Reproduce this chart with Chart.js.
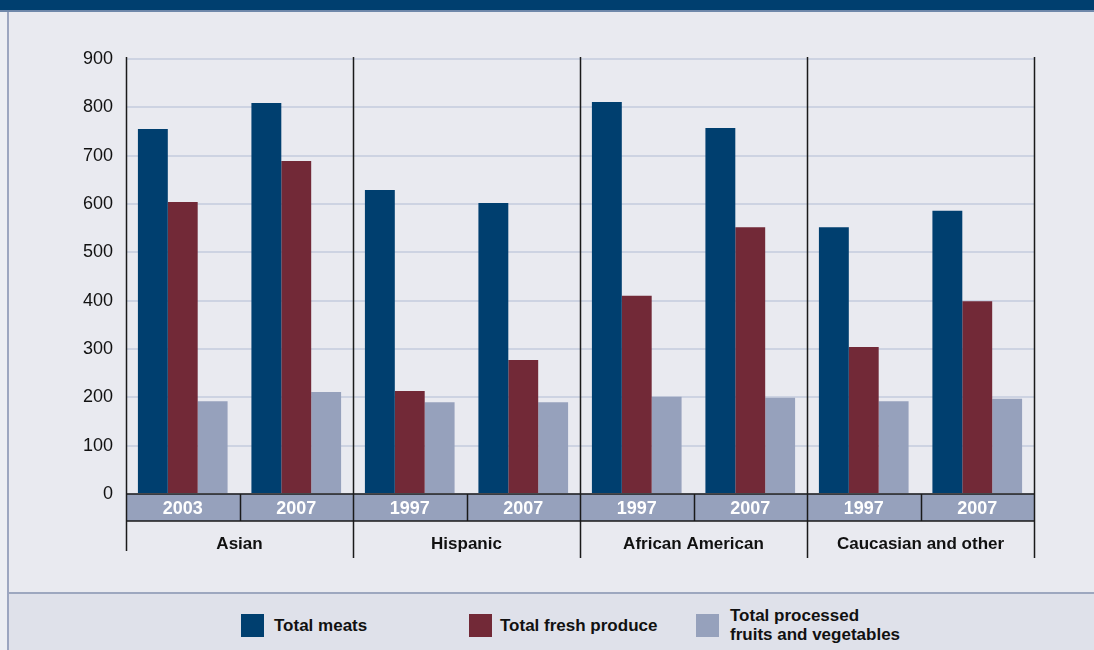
<!DOCTYPE html>
<html>
<head>
<meta charset="utf-8">
<script src="https://cdn.jsdelivr.net/npm/chart.js@4.4.0/dist/chart.umd.min.js"></script>
<style>
  html,body{margin:0;padding:0}
  body{width:1094px;height:650px;position:relative;overflow:hidden;background:#eceef3;font-family:"Liberation Sans",Arial,sans-serif}
  .topbar{position:absolute;left:0;top:0;width:1094px;height:10px;background:#003f6f;border-bottom:2px solid #6f88aa}
  .panel{position:absolute;left:7px;top:12px;right:0;bottom:0;background:#e9eaf0;border-left:2px solid #9ca6c0}
  .legend{position:absolute;left:9px;right:0;top:592px;bottom:0;background:#dfe1ea;border-top:2px solid #9da7bf}
  .sw{position:absolute;width:23px;height:23px}
  .lt{position:absolute;font-weight:bold;font-size:17px;color:#111;line-height:19px}
  #wrap{position:absolute;left:0;top:0;width:1094px;height:650px}
</style>
</head>
<body>
<div class="topbar"></div>
<div class="panel"></div>
<div class="legend"></div>
<div class="sw" style="left:241px;top:614px;background:#003f6f"></div>
<div class="lt" style="left:274px;top:616px">Total meats</div>
<div class="sw" style="left:469px;top:614px;background:#722937"></div>
<div class="lt" style="left:500px;top:616px">Total fresh produce</div>
<div class="sw" style="left:696px;top:614px;background:#96a1bc"></div>
<div class="lt" style="left:730px;top:606px">Total processed<br>fruits and vegetables</div>
<div id="wrap"><canvas id="c" width="1094" height="650"></canvas></div>
<script>
/* ===== Dados ===== */
const years   = ['2003','2007','1997','2007','1997','2007','1997','2007'];
const groups  = ['Asian','Hispanic','African American','Caucasian and other'];
const meats     = [755, 809, 629, 602, 811, 757, 552, 586];
const fresh     = [604, 689, 213, 277, 410, 552, 304, 399];
const processed = [192, 211, 190, 190, 201, 199, 192, 197];
const yTicks  = [0,100,200,300,400,500,600,700,800,900];

const C_MEAT = '#003f6f', C_FRESH = '#722937', C_PROC = '#96a1bc';

/* ===== Eixo inferior (anos + grupos) ===== */
const bottomAxis = {
  id:'bottomAxis',
  afterDraw(chart){
    const {ctx, chartArea:a, scales:{x}} = chart;
    const n = years.length;
    const step = (a.right - a.left)/n;
    const y0 = a.bottom, y1 = a.bottom+27, y2 = a.bottom+64;
    ctx.save();
    // faixa dos anos
    ctx.fillStyle = C_PROC;
    ctx.fillRect(a.left, y0, a.right-a.left, y1-y0);
    ctx.strokeStyle = '#1a1a1a';
    ctx.lineWidth = 1.5;
    ctx.beginPath();
    ctx.moveTo(a.left, y0); ctx.lineTo(a.right, y0);
    ctx.moveTo(a.left, y1); ctx.lineTo(a.right, y1);
    for (let i=1;i<n;i++){
      if (i%2===0) continue;
      const xx = Math.round(a.left+step*i)+0.5;
      ctx.moveTo(xx, y0); ctx.lineTo(xx, y1);
    }
    // separadores de grupo
    for (let g=0; g<=groups.length; g++){
      const xx = Math.round(a.left+step*2*g)+0.5;
      ctx.moveTo(xx, a.top-2); ctx.lineTo(xx, g===0 ? y2-7 : y2);
    }
    ctx.stroke();
    ctx.textAlign = 'center';
    ctx.textBaseline = 'middle';
    ctx.font = 'bold 18px "Liberation Sans", Arial, sans-serif';
    ctx.fillStyle = '#ffffff';
    years.forEach((yr,i)=> ctx.fillText(yr, x.getPixelForValue(i), y0+15));
    ctx.font = 'bold 17px "Liberation Sans", Arial, sans-serif';
    ctx.fillStyle = '#111';
    groups.forEach((g,i)=> ctx.fillText(g, a.left+step*(2*i+1), y1+23));
    ctx.restore();
  }
};

new Chart(document.getElementById('c'), {
  type:'bar',
  data:{
    labels: years,
    datasets:[
      {label:'Total meats', data:meats, backgroundColor:C_MEAT},
      {label:'Total fresh produce', data:fresh, backgroundColor:C_FRESH},
      {label:'Total processed fruits and vegetables', data:processed, backgroundColor:C_PROC}
    ]
  },
  options:{
    responsive:false,
    animation:false,
    layout:{padding:{left:0, top:59, right:60, bottom:156}},
    datasets:{bar:{categoryPercentage:0.79, barPercentage:1.0}},
    plugins:{legend:{display:false}, tooltip:{enabled:false}},
    scales:{
      x:{
        afterFit(s){ s.height = 0; },
        grid:{display:false},
        border:{display:false},
        ticks:{display:false}
      },
      y:{
        min:0, max:900,
        afterFit(s){ s.width = 126; },
        afterBuildTicks(s){ s.ticks = yTicks.map(v=>({value:v})); },
        grid:{color:'#cdd3e2', lineWidth:2, drawTicks:false},
        border:{display:false},
        ticks:{padding:13, color:'#111', font:{size:18, family:'"Liberation Sans", Arial, sans-serif'}}
      }
    }
  },
  plugins:[bottomAxis]
});
</script>
</body>
</html>
